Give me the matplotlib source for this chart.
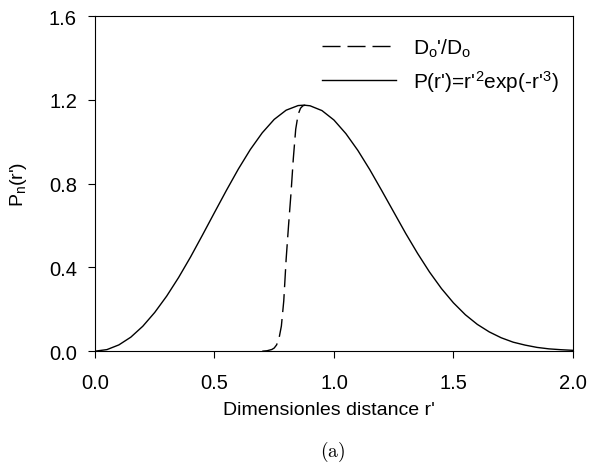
import matplotlib
matplotlib.use("Agg")
import matplotlib.pyplot as plt

plt.rcParams["font.family"] = ["Liberation Sans", "DejaVu Sans"]
plt.rcParams["mathtext.default"] = "regular"

# P(r') curve
r_p = [0.0, 0.05, 0.1, 0.15, 0.2, 0.25, 0.3, 0.35, 0.4, 0.45, 0.5, 0.55, 0.6, 0.65,
       0.7, 0.75, 0.8, 0.85, 0.875, 0.9, 0.95, 1.0, 1.05, 1.1, 1.15, 1.2, 1.25, 1.3,
       1.35, 1.4, 1.45, 1.5, 1.55, 1.6, 1.65, 1.7, 1.75, 1.8, 1.85, 1.9, 1.95, 2.0]
p_val = [0.0, 0.0075, 0.030, 0.067, 0.119, 0.185, 0.263, 0.352, 0.450, 0.555, 0.662,
         0.768, 0.870, 0.963, 1.043, 1.107, 1.151, 1.173, 1.175, 1.172, 1.149, 1.104,
         1.039, 0.959, 0.867, 0.767, 0.665, 0.563, 0.467, 0.378, 0.299, 0.231, 0.174,
         0.128, 0.092, 0.064, 0.043, 0.029, 0.018, 0.011, 0.007, 0.004]

# Do'/Do curve
r_d = [0.70, 0.72, 0.74, 0.75, 0.76, 0.77, 0.78, 0.79, 0.80, 0.81, 0.82, 0.83, 0.84,
       0.85, 0.86, 0.87, 0.88]
d_val = [0.0, 0.002, 0.008, 0.015, 0.03, 0.06, 0.12, 0.24, 0.44, 0.60, 0.75, 0.92,
         1.06, 1.13, 1.16, 1.172, 1.175]

fig = plt.figure(figsize=(5.9, 4.64), dpi=100)
ax = fig.add_axes([0.161, 0.241, 0.81, 0.722])

ax.plot(r_d, d_val, color="black", lw=1.0, linestyle=(0, (13, 5)), label="D$_o$'/D$_o$")
ax.plot(r_p, p_val, color="black", lw=1.0, label="P(r')=r'$^2$exp(-r'$^3$)")

ax.set_xlim(0, 2.0)
ax.set_ylim(0, 1.6)
ax.set_xticks([0.0, 0.5, 1.0, 1.5, 2.0])
ax.set_yticks([0.0, 0.4, 0.8, 1.2, 1.6])
ax.set_xticklabels(["0.0", "0.5", "1.0", "1.5", "2.0"])
ax.set_yticklabels(["0.0", "0.4", "0.8", "1.2", "1.6"])
ax.tick_params(direction="out", length=5, width=0.8, labelsize=14.5, top=False, right=False)
ax.tick_params(axis="x", pad=10.5)
ax.tick_params(axis="y", pad=8)
for s in ax.spines.values():
    s.set_linewidth(0.8)

ax.set_xlabel("Dimensionles distance r'", fontsize=14)
ax.xaxis.set_label_coords(0.49, -0.149)
ax.set_ylabel("P$_n$(r')", fontsize=14, labelpad=14)

ax.legend(loc="upper left", bbox_to_anchor=(0.475, 0.94), frameon=False, fontsize=15,
          handlelength=3.55, handletextpad=0.82, borderaxespad=0, borderpad=0,
          labelspacing=0.45)

fig.text(0.563, 0.026, r"$\mathrm{(a)}$", ha="center", va="center", fontsize=14,
         math_fontfamily="cm")

fig.savefig("out.png", dpi=100)
